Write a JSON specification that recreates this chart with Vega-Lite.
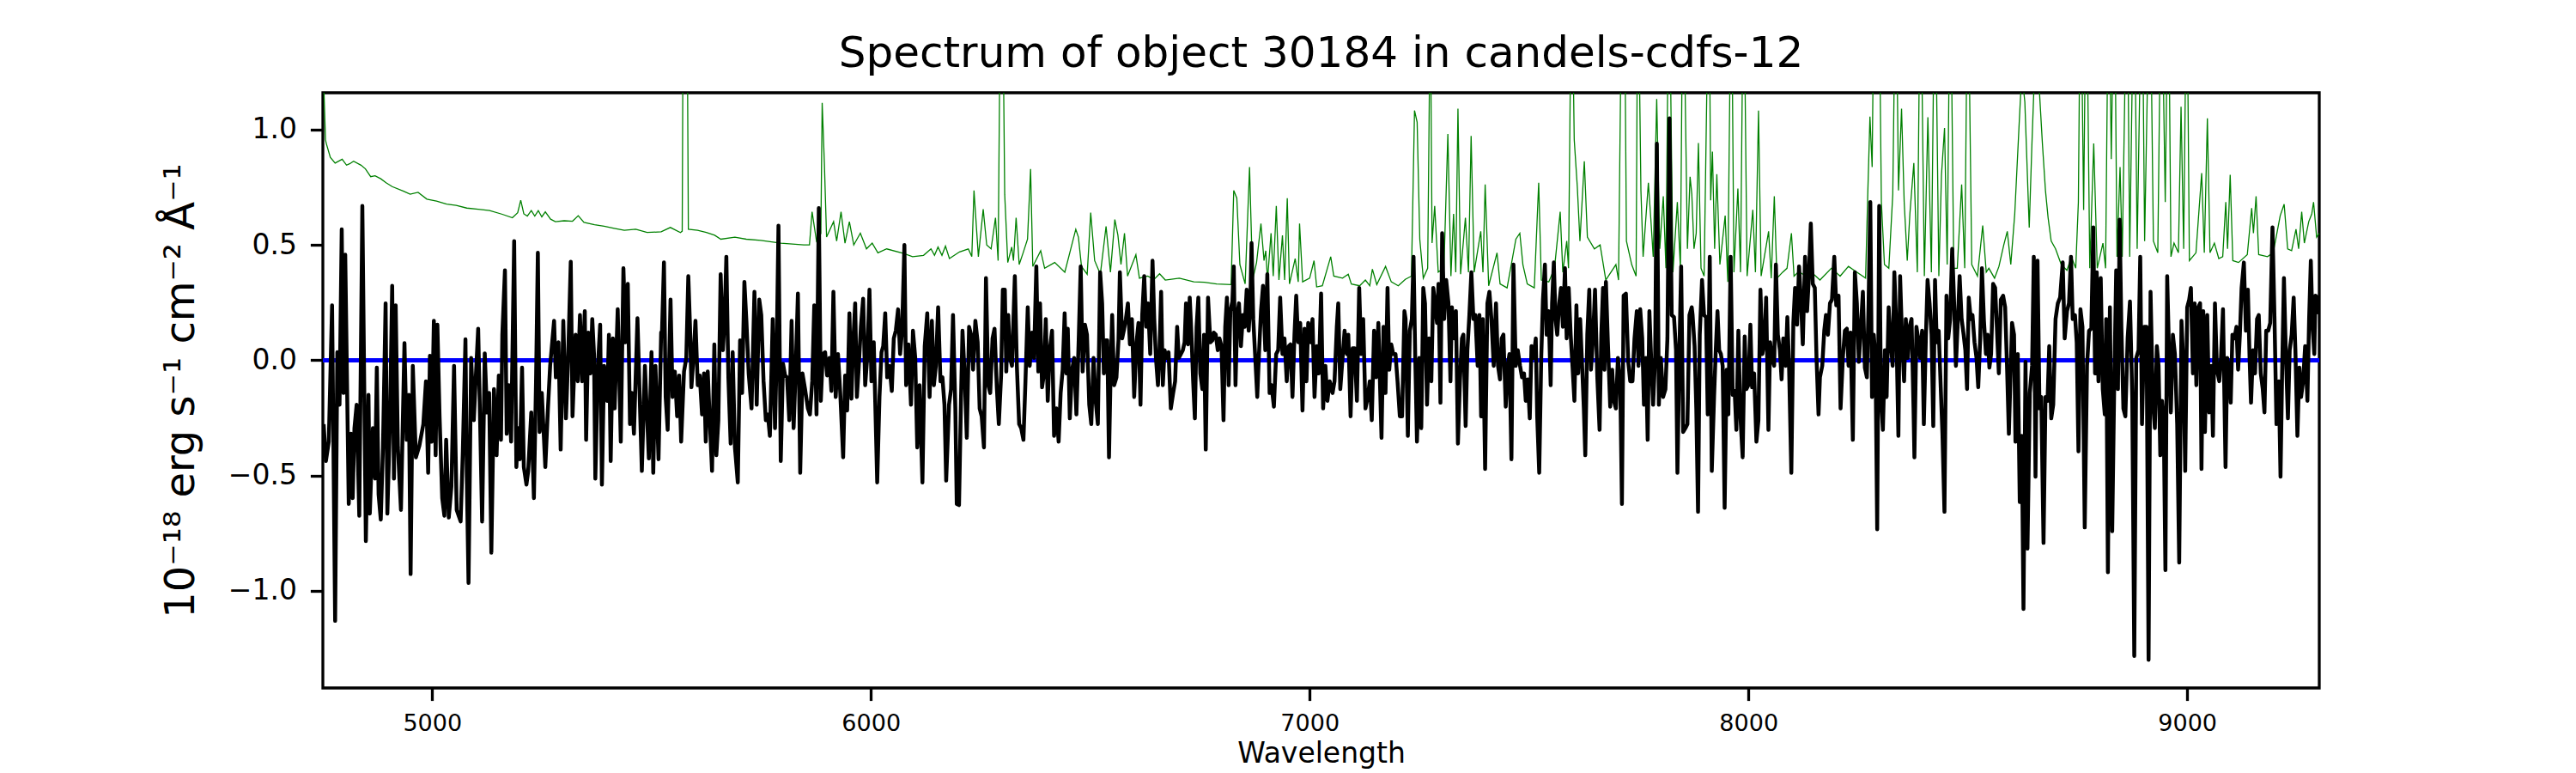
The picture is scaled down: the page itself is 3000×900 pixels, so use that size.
{
  "$schema": "https://vega.github.io/schema/vega-lite/v6.json",
  "width": 2325,
  "height": 693,
  "autosize": {"type": "none"},
  "padding": {"left": 376, "top": 108, "right": 299, "bottom": 99},
  "background": "white",
  "title": {
    "text": "Spectrum of object 30184 in candels-cdfs-12",
    "font": "DejaVu Sans",
    "fontSize": 50,
    "fontWeight": "normal",
    "color": "black",
    "offset": 20
  },
  "config": {
    "view": {"stroke": "black", "strokeWidth": 3.3},
    "axis": {
      "domain": false,
      "grid": false,
      "ticks": true,
      "tickColor": "black",
      "tickWidth": 3.3,
      "tickSize": 14.6,
      "labelFont": "DejaVu Sans",
      "labelColor": "black",
      "labelPadding": 15,
      "titleFont": "DejaVu Sans",
      "titleColor": "black",
      "titleFontWeight": "normal"
    }
  },
  "datasets": {
    "model": [{"w": 4751, "v": 0}, {"w": 9301, "v": 0}],
    "noise": [
      {"w":4751,"v":1.6},{"w":4753,"v":1.2},{"w":4757,"v":0.956},{"w":4759,"v":0.939},{"w":4768,"v":0.88},{"w":4779,"v":0.855},{"w":4795,"v":0.872},{"w":4805,"v":0.846},{"w":4812,"v":0.852},{"w":4821,"v":0.863},{"w":4838,"v":0.846},{"w":4848,"v":0.83},{"w":4860,"v":0.796},{"w":4870,"v":0.8},{"w":4883,"v":0.787},{"w":4895,"v":0.77},{"w":4909,"v":0.753},{"w":4935,"v":0.733},{"w":4950,"v":0.72},{"w":4968,"v":0.728},{"w":4988,"v":0.699},{"w":5010,"v":0.69},{"w":5033,"v":0.677},{"w":5055,"v":0.672},{"w":5079,"v":0.66},{"w":5105,"v":0.655},{"w":5131,"v":0.649},{"w":5160,"v":0.633},{"w":5183,"v":0.618},{"w":5195,"v":0.64},{"w":5202,"v":0.694},{"w":5209,"v":0.635},{"w":5217,"v":0.625},{"w":5226,"v":0.649},{"w":5234,"v":0.625},{"w":5242,"v":0.649},{"w":5250,"v":0.622},{"w":5258,"v":0.644},{"w":5270,"v":0.612},{"w":5281,"v":0.601},{"w":5301,"v":0.605},{"w":5320,"v":0.603},{"w":5333,"v":0.627},{"w":5346,"v":0.598},{"w":5370,"v":0.588},{"w":5392,"v":0.581},{"w":5415,"v":0.572},{"w":5438,"v":0.564},{"w":5464,"v":0.568},{"w":5490,"v":0.554},{"w":5522,"v":0.557},
      {"w":5543,"v":0.576},{"w":5566,"v":0.554},{"w":5570,"v":0.56},{"w":5573,"v":2.0},{"w":5580,"v":2.0},{"w":5584,"v":0.568},{"w":5605,"v":0.564},{"w":5625,"v":0.554},{"w":5644,"v":0.542},{"w":5658,"v":0.525},{"w":5690,"v":0.534},{"w":5716,"v":0.525},{"w":5749,"v":0.52},{"w":5795,"v":0.508},{"w":5847,"v":0.5},{"w":5860,"v":0.5},{"w":5866,"v":0.644},{"w":5876,"v":0.517},{"w":5886,"v":0.55},{"w":5889,"v":1.116},{"w":5894,"v":0.855},{"w":5899,"v":0.534},{"w":5915,"v":0.601},{"w":5922,"v":0.517},{"w":5932,"v":0.644},{"w":5941,"v":0.508},{"w":5951,"v":0.601},{"w":5961,"v":0.5},{"w":5976,"v":0.551},{"w":5990,"v":0.483},{"w":6003,"v":0.508},{"w":6016,"v":0.466},{"w":6036,"v":0.483},{"w":6075,"v":0.463},{"w":6095,"v":0.449},{"w":6120,"v":0.455},{"w":6137,"v":0.483},{"w":6145,"v":0.455},{"w":6153,"v":0.491},{"w":6162,"v":0.455},{"w":6170,"v":0.495},{"w":6179,"v":0.441},{"w":6202,"v":0.47},{"w":6222,"v":0.483},{"w":6230,"v":0.45},{"w":6235,"v":0.736},{"w":6245,"v":0.449},{"w":6256,"v":0.655},{"w":6264,"v":0.5},{"w":6274,"v":0.483},{"w":6284,"v":0.618},{"w":6290,"v":0.432},{"w":6296,"v":1.8},{"w":6301,"v":1.5},{"w":6305,"v":0.72},
      {"w":6312,"v":0.424},{"w":6321,"v":0.491},{"w":6325,"v":0.432},{"w":6331,"v":0.618},{"w":6338,"v":0.415},{"w":6347,"v":0.466},{"w":6357,"v":0.525},{"w":6364,"v":0.829},{"w":6369,"v":0.407},{"w":6387,"v":0.475},{"w":6396,"v":0.399},{"w":6419,"v":0.424},{"w":6442,"v":0.382},{"w":6467,"v":0.568},{"w":6473,"v":0.534},{"w":6480,"v":0.407},{"w":6493,"v":0.373},{"w":6501,"v":0.64},{"w":6510,"v":0.432},{"w":6523,"v":0.373},{"w":6536,"v":0.581},{"w":6546,"v":0.382},{"w":6556,"v":0.61},{"w":6563,"v":0.542},{"w":6570,"v":0.415},{"w":6578,"v":0.551},{"w":6585,"v":0.365},{"w":6604,"v":0.458},{"w":6612,"v":0.356},{"w":6631,"v":0.365},{"w":6645,"v":0.35},{"w":6658,"v":0.375},{"w":6671,"v":0.348},{"w":6703,"v":0.356},{"w":6736,"v":0.34},{"w":6760,"v":0.338},{"w":6788,"v":0.331},{"w":6821,"v":0.328},{"w":6827,"v":0.736},{"w":6834,"v":0.703},{"w":6841,"v":0.415},{"w":6853,"v":0.331},{"w":6863,"v":0.838},{"w":6870,"v":0.348},{"w":6879,"v":0.424},{"w":6889,"v":0.593},{"w":6896,"v":0.432},{"w":6900,"v":0.475},{"w":6904,"v":0.348},{"w":6912,"v":0.551},{"w":6917,"v":0.365},{"w":6924,"v":0.669},{"w":6930,"v":0.348},{"w":6938,"v":0.542},{"w":6943,"v":0.348},{"w":6949,"v":0.703},{"w":6954,"v":0.331},{"w":6967,"v":0.441},{"w":6974,"v":0.34},{"w":6977,"v":0.593},{"w":6984,"v":0.34},{"w":7000,"v":0.356},{"w":7010,"v":0.432},{"w":7016,"v":0.318},{"w":7029,"v":0.323},{"w":7048,"v":0.449},{"w":7055,"v":0.365},{"w":7075,"v":0.356},{"w":7088,"v":0.373},
      {"w":7095,"v":0.331},{"w":7114,"v":0.323},{"w":7127,"v":0.348},{"w":7137,"v":0.323},{"w":7143,"v":0.395},{"w":7153,"v":0.328},{"w":7173,"v":0.407},{"w":7186,"v":0.34},{"w":7202,"v":0.323},{"w":7218,"v":0.351},{"w":7232,"v":0.365},{"w":7239,"v":1.083},{"w":7245,"v":1.032},{"w":7251,"v":0.525},{"w":7259,"v":0.356},{"w":7269,"v":0.399},{"w":7275,"v":1.6},{"w":7279,"v":0.508},{"w":7285,"v":0.669},{"w":7293,"v":0.382},{"w":7306,"v":0.399},{"w":7315,"v":0.981},{"w":7322,"v":0.365},{"w":7328,"v":0.635},{"w":7333,"v":0.382},{"w":7338,"v":1.091},{"w":7344,"v":0.373},{"w":7355,"v":0.618},{"w":7362,"v":0.382},{"w":7368,"v":0.973},{"w":7375,"v":0.382},{"w":7390,"v":0.559},{"w":7395,"v":0.382},{"w":7400,"v":0.762},{"w":7408,"v":0.323},{"w":7427,"v":0.466},{"w":7434,"v":0.331},{"w":7450,"v":0.314},{"w":7470,"v":0.525},{"w":7479,"v":0.551},{"w":7486,"v":0.415},{"w":7496,"v":0.331},{"w":7512,"v":0.314},{"w":7522,"v":0.77},{"w":7528,"v":0.348},{"w":7545,"v":0.34},{"w":7558,"v":0.399},{"w":7571,"v":0.644},{"w":7577,"v":0.382},{"w":7586,"v":0.517},{"w":7590,"v":0.399},{"w":7597,"v":1.8},{"w":7603,"v":0.956},{"w":7610,"v":0.753},{"w":7616,"v":0.517},{"w":7626,"v":0.863},{"w":7633,"v":0.534},{"w":7649,"v":0.483},{"w":7662,"v":0.5},{"w":7675,"v":0.348},{"w":7698,"v":0.415},{"w":7704,"v":0.348},{"w":7712,"v":1.8},{"w":7717,"v":1.8},{"w":7722,"v":0.517},{"w":7734,"v":0.415},{"w":7744,"v":0.365},{"w":7748,"v":1.8},{"w":7755,"v":0.736},{"w":7760,"v":0.449},{"w":7772,"v":0.77},{"w":7778,"v":0.601},{"w":7783,"v":0.449},{"w":7791,"v":1.133},{"w":7798,"v":0.483},{"w":7806,"v":0.711},{"w":7812,"v":0.399},{"w":7819,"v":1.8},{"w":7828,"v":0.382},{"w":7838,"v":0.686},{"w":7845,"v":0.399},{"w":7851,"v":1.8},{"w":7861,"v":0.483},{"w":7867,"v":0.796},
      {"w":7871,"v":0.72},{"w":7876,"v":0.483},{"w":7881,"v":0.551},{"w":7886,"v":0.942},{"w":7892,"v":0.399},{"w":7899,"v":0.365},{"w":7910,"v":1.8},{"w":7914,"v":0.694},{"w":7918,"v":0.905},{"w":7923,"v":0.483},{"w":7928,"v":0.807},{"w":7935,"v":0.415},{"w":7947,"v":0.627},{"w":7953,"v":0.34},{"w":7961,"v":1.8},{"w":7967,"v":0.382},{"w":7976,"v":0.745},{"w":7982,"v":0.382},{"w":7989,"v":1.8},{"w":7997,"v":0.365},{"w":8010,"v":0.652},{"w":8016,"v":0.382},{"w":8023,"v":1.083},{"w":8029,"v":0.365},{"w":8046,"v":0.559},{"w":8052,"v":0.356},{"w":8059,"v":0.711},{"w":8065,"v":0.356},{"w":8078,"v":0.382},{"w":8088,"v":0.399},{"w":8098,"v":0.551},{"w":8104,"v":0.365},{"w":8115,"v":0.385},{"w":8130,"v":0.365},{"w":8145,"v":0.38},{"w":8163,"v":0.348},{"w":8189,"v":0.399},{"w":8209,"v":0.365},{"w":8228,"v":0.407},{"w":8241,"v":0.39},{"w":8267,"v":0.356},{"w":8272,"v":0.72},{"w":8277,"v":1.057},{"w":8282,"v":0.838},{"w":8287,"v":1.8},{"w":8297,"v":1.8},{"w":8303,"v":0.686},{"w":8310,"v":0.415},{"w":8320,"v":0.399},{"w":8329,"v":0.72},{"w":8336,"v":1.8},{"w":8342,"v":0.736},{"w":8349,"v":1.091},{"w":8355,"v":0.686},{"w":8362,"v":0.432},{"w":8368,"v":0.635},{"w":8377,"v":0.855},{"w":8385,"v":0.382},{"w":8392,"v":1.8},{"w":8401,"v":0.365},{"w":8409,"v":1.054},{"w":8417,"v":0.382},{"w":8425,"v":1.8},{"w":8434,"v":0.365},{"w":8440,"v":0.804},{"w":8447,"v":1.007},{"w":8453,"v":0.415},{"w":8460,"v":1.8},{"w":8468,"v":0.399},{"w":8476,"v":0.399},{"w":8486,"v":0.762},{"w":8493,"v":0.399},{"w":8500,"v":1.8},{"w":8509,"v":0.415},{"w":8522,"v":0.365},{"w":8534,"v":0.584},{"w":8542,"v":0.382},{"w":8548,"v":0.399},{"w":8561,"v":0.356},{"w":8571,"v":0.407},{"w":8582,"v":0.5},{"w":8590,"v":0.559},{"w":8598,"v":0.415},{"w":8607,"v":0.635},{"w":8617,"v":1.024},{"w":8623,"v":1.25},{"w":8630,"v":1.12},{"w":8640,"v":0.575},{"w":8646,"v":0.93},{"w":8652,"v":1.25},{"w":8660,"v":1.3},{"w":8664,"v":1.14},{"w":8670,"v":0.94},{"w":8677,"v":0.736},{"w":8683,"v":0.618},{"w":8690,"v":0.517},{"w":8700,"v":0.483},{"w":8713,"v":0.415},{"w":8726,"v":0.39},{"w":8736,"v":0.449},{"w":8746,"v":0.399},{"w":8752,"v":0.686},{"w":8757,"v":1.8},{"w":8764,"v":0.652},{"w":8770,"v":1.8},{"w":8778,"v":0.399},{"w":8787,"v":0.94},{"w":8795,"v":0.399},{"w":8808,"v":0.508},{"w":8814,"v":0.399},{"w":8821,"v":1.8},{"w":8827,"v":0.872},{"w":8834,"v":1.8},{"w":8840,"v":0.449},{"w":8847,"v":0.838},{"w":8852,"v":0.449},{"w":8863,"v":1.8},{"w":8869,"v":0.449},{"w":8879,"v":1.8},{"w":8886,"v":0.483},{"w":8897,"v":1.8},{"w":8903,"v":0.517},{"w":8915,"v":1.8},{"w":8923,"v":0.517},{"w":8933,"v":0.466},{"w":8941,"v":1.8},{"w":8950,"v":0.686},{"w":8957,"v":1.8},{"w":8963,"v":0.449},{"w":8970,"v":0.508},{"w":8980,"v":0.466},{"w":8986,"v":1.099},{"w":8992,"v":0.483},{"w":8999,"v":1.8},{"w":9005,"v":0.432},{"w":9020,"v":0.466},{"w":9033,"v":0.812},{"w":9039,"v":0.466},{"w":9046,"v":1.049},{"w":9052,"v":0.466},{"w":9062,"v":0.508},{"w":9072,"v":0.441},{"w":9081,"v":0.449},{"w":9088,"v":0.686},{"w":9092,"v":0.483},{"w":9098,"v":0.804},{"w":9104,"v":0.432},{"w":9117,"v":0.424},{"w":9137,"v":0.458},{"w":9147,"v":0.66},{"w":9151,"v":0.551},{"w":9157,"v":0.711},{"w":9163,"v":0.458},{"w":9183,"v":0.449},{"w":9196,"v":0.466},{"w":9212,"v":0.627},{"w":9221,"v":0.677},{"w":9229,"v":0.483},{"w":9238,"v":0.475},{"w":9248,"v":0.568},{"w":9254,"v":0.483},{"w":9261,"v":0.644},{"w":9267,"v":0.508},{"w":9277,"v":0.601},{"w":9284,"v":0.635},{"w":9288,"v":0.686},{"w":9295,"v":0.534},{"w":9301,"v":0.551}
    ],
    "flux": [
      {"w":4752.8,"v":-0.277},{"w":4758,"v":-0.437},{"w":4764.5,"v":-0.353},{"w":4772,"v":0.238},{"w":4779,"v":-1.13},{"w":4784,"v":0.035},{"w":4789,"v":-0.193},{"w":4794,"v":0.568},{"w":4798,"v":-0.142},{"w":4802,"v":0.458},{"w":4810,"v":-0.623},{"w":4815,"v":-0.319},{"w":4819,"v":-0.598},{"w":4823,"v":-0.294},{"w":4828,"v":-0.193},{"w":4834,"v":-0.674},{"w":4841,"v":0.669},{"w":4849,"v":-0.784},{"w":4855,"v":-0.15},{"w":4858,"v":-0.665},{"w":4865,"v":-0.294},{"w":4870,"v":-0.513},{"w":4874,"v":-0.032},{"w":4878,"v":-0.581},{"w":4883,"v":-0.691},{"w":4888,"v":-0.378},{"w":4894,"v":0.247},{"w":4898,"v":-0.665},{"w":4904,"v":-0.26},{"w":4909,"v":0.323},{"w":4913,"v":-0.513},{"w":4917,"v":0.238},{"w":4922,"v":-0.378},{"w":4929,"v":-0.649},{"w":4937,"v":0.074},{"w":4942,"v":-0.345},{"w":4947,"v":-0.15},{"w":4951,"v":-0.927},{"w":4956,"v":-0.024},{"w":4963,"v":-0.421},{"w":4971,"v":-0.37},{"w":4980,"v":-0.277},{"w":4986,"v":-0.091},{"w":4991,"v":-0.488},{"w":4995,"v":0.019},{"w":4999,"v":-0.353},{"w":5004,"v":0.171},{"w":5008,"v":-0.412},{"w":5012,"v":0.154},{"w":5017,"v":-0.243},{"w":5023,"v":-0.598},{"w":5028,"v":-0.674},{"w":5032,"v":-0.345},{"w":5038,"v":-0.682},{"w":5044,"v":-0.547},{"w":5050,"v":-0.024},{"w":5056,"v":-0.649},{"w":5065,"v":-0.699},{"w":5070,"v":-0.395},{"w":5076,"v":0.091},{"w":5079,"v":-0.497},{"w":5083,"v":-0.966},{"w":5089,"v":0.01},{"w":5095,"v":-0.26},{"w":5100,"v":-0.057},{"w":5105,"v":0.137},{"w":5109,"v":-0.226},{"w":5114,"v":-0.699},{"w":5120,"v":0.03},{"w":5125,"v":-0.226},{"w":5130,"v":-0.142},{"w":5135,"v":-0.834},{"w":5141,"v":-0.125},{"w":5147,"v":-0.412},{"w":5152,"v":-0.066},{"w":5157,"v":-0.345},{"w":5160,"v":0.111},{"w":5166,"v":0.39},{"w":5170,"v":-0.319},{"w":5175,"v":-0.108},{"w":5180,"v":-0.353},{"w":5187,"v":0.517},{"w":5192,"v":-0.463},{"w":5196,"v":-0.294},{"w":5200,"v":-0.429},{"w":5205,"v":-0.032},{"w":5209,"v":-0.463},{"w":5215,"v":-0.539},{"w":5219,"v":-0.48},{"w":5226,"v":-0.226},{"w":5232,"v":-0.598},{"w":5237,"v":-0.074},{"w":5241,"v":0.466},{"w":5245,"v":-0.311},{"w":5250,"v":-0.142},{"w":5258,"v":-0.463},{"w":5264,"v":-0.209},{"w":5269,"v":-0.024},{"w":5278,"v":0.171},{"w":5282,"v":-0.074},{"w":5288,"v":0.078},{"w":5293,"v":-0.387},{"w":5299,"v":0.171},{"w":5305,"v":-0.252},{"w":5310,"v":0.01},{"w":5316,"v":0.427},{"w":5320,"v":-0.243},{"w":5327,"v":0.111},{"w":5332,"v":-0.091},{"w":5337,"v":0.196},{"w":5342,"v":-0.091},{"w":5348,"v":0.213},{"w":5351,"v":-0.345},{"w":5356,"v":0.12},{"w":5361,"v":-0.057},{"w":5365,"v":0.179},{"w":5369,"v":0.027},{"w":5372,"v":-0.513},{"w":5378,"v":-0.024},{"w":5383,"v":0.154},{"w":5387,"v":-0.539},{"w":5392,"v":-0.024},{"w":5399,"v":-0.176},{"w":5403,"v":0.111},{"w":5407,"v":-0.437},{"w":5412,"v":0.095},{"w":5416,"v":-0.209},{"w":5423,"v":0.221},{"w":5430,"v":-0.353},{"w":5436,"v":0.399},{"w":5441,"v":0.078},{"w":5446,"v":0.331},{"w":5451,"v":-0.277},{"w":5455,"v":-0.142},{"w":5460,"v":-0.319},{"w":5468,"v":0.182},{"w":5478,"v":-0.48},{"w":5485,"v":-0.024},{"w":5494,"v":-0.426},{"w":5500,"v":0.035},{"w":5504,"v":-0.488},{"w":5509,"v":-0.024},{"w":5516,"v":-0.429},{"w":5522,"v":0.12},
      {"w":5524,"v":0.128},{"w":5528.4,"v":0.424},{"w":5532.3,"v":-0.159},{"w":5536.9,"v":-0.302},{"w":5543.4,"v":0.263},{"w":5548,"v":-0.159},{"w":5553.2,"v":-0.049},{"w":5558.4,"v":-0.243},{"w":5563,"v":-0.066},{"w":5567.6,"v":-0.353},{"w":5574.1,"v":-0.049},{"w":5579.3,"v":0.01},{"w":5583.9,"v":0.365},{"w":5587.8,"v":0.145},{"w":5591,"v":-0.117},{"w":5595.6,"v":0.01},{"w":5600.2,"v":0.171},{"w":5605.4,"v":-0.108},{"w":5610,"v":-0.066},{"w":5615.2,"v":-0.235},{"w":5619.7,"v":-0.057},{"w":5623.7,"v":-0.353},{"w":5628.2,"v":-0.049},{"w":5632.8,"v":-0.26},{"w":5638,"v":-0.48},{"w":5643.2,"v":0.069},{"w":5647.8,"v":-0.412},{"w":5652.4,"v":-0.26},{"w":5657.6,"v":0.373},{"w":5662.8,"v":0.044},{"w":5666.7,"v":0.179},{"w":5670.6,"v":0.449},{"w":5675.2,"v":-0.074},{"w":5680.4,"v":-0.361},{"w":5685,"v":0.035},{"w":5690.2,"v":-0.378},{"w":5696.7,"v":-0.53},{"w":5701.9,"v":0.086},{"w":5706.5,"v":-0.142},{"w":5711.7,"v":0.34},{"w":5716.3,"v":0.171},{"w":5721.5,"v":-0.057},{"w":5728,"v":-0.209},{"w":5734.6,"v":0.297},{"w":5739.8,"v":-0.193},{"w":5745.6,"v":0.263},{"w":5750.2,"v":0.196},{"w":5755.4,"v":-0.091},{"w":5760.6,"v":-0.26},{"w":5765.2,"v":-0.235},{"w":5769.8,"v":-0.328},{"w":5776.3,"v":0.179},{"w":5781.5,"v":-0.294},{"w":5784.8,"v":-0.024},{"w":5789.4,"v":0.584},{"w":5794.6,"v":-0.437},{"w":5799.8,"v":-0.015},{"w":5804.4,"v":-0.066},{"w":5808.9,"v":-0.074},{"w":5814.1,"v":-0.26},{"w":5819.3,"v":0.171},{"w":5823.9,"v":-0.294},{"w":5828.5,"v":-0.049},{"w":5833.7,"v":0.289},{"w":5838.9,"v":-0.488},{"w":5844.1,"v":-0.057},{"w":5850,"v":-0.125},{"w":5856.5,"v":-0.209},{"w":5861.1,"v":-0.235},{"w":5866.3,"v":-0.091},{"w":5870.9,"v":0.238},{"w":5876.1,"v":-0.235},{"w":5881.3,"v":0.66},{"w":5885.9,"v":-0.176},{"w":5890.5,"v":0.027},{"w":5895.7,"v":0.035},{"w":5900.2,"v":-0.066},{"w":5905.5,"v":0.01},{"w":5910,"v":-0.133},{"w":5914.6,"v":0.297},{"w":5919.8,"v":-0.159},{"w":5925,"v":0.027},{"w":5930.2,"v":-0.142},{"w":5936.8,"v":-0.421},{"w":5941.3,"v":-0.066},{"w":5945.9,"v":-0.218},{"w":5951.1,"v":0.204},{"w":5955.7,"v":-0.167},{"w":5959.6,"v":0.069},{"w":5964.2,"v":0.247},{"w":5968.1,"v":-0.159},{"w":5972,"v":-0.041},{"w":5977.2,"v":0.145},{"w":5982.4,"v":0.267},{"w":5987,"v":-0.108},{"w":5991.6,"v":0.01},{"w":5996.8,"v":0.306},{"w":6001.3,"v":-0.091},{"w":6006.6,"v":0.078},{"w":6014.4,"v":-0.53},{"w":6019.6,"v":-0.159},{"w":6024.2,"v":0.035},{"w":6028.1,"v":0.061},{"w":6032.7,"v":0.204},{"w":6037.2,"v":-0.074},{"w":6042.4,"v":-0.024},{"w":6047.7,"v":-0.133},{"w":6052.2,"v":0.095},{"w":6056.8,"v":0.128},{"w":6062,"v":0.221},{"w":6066.6,"v":0.027},{"w":6071.1,"v":0.128},{"w":6076.4,"v":0.5},{"w":6080.3,"v":-0.108},{"w":6085.5,"v":0.069},{"w":6091.4,"v":-0.193},{"w":6095.9,"v":0.128},{"w":6101.1,"v":0.01},{"w":6105.7,"v":-0.378},{"w":6110.9,"v":-0.108},{"w":6117.5,"v":-0.53},{"w":6122.7,"v":0.061},{"w":6128.5,"v":0.204},{"w":6133.8,"v":-0.159},{"w":6139,"v":0.171},{"w":6143.6,"v":-0.108},{"w":6148.1,"v":-0.024},{"w":6153.3,"v":0.23},{"w":6158.6,"v":-0.091},{"w":6163.1,"v":-0.074},{"w":6167.7,"v":-0.193},{"w":6171.6,"v":-0.522},{"w":6178.1,"v":-0.193},{"w":6182.7,"v":-0.125},{"w":6187.2,"v":0.196},{"w":6192.5,"v":-0.209},{"w":6195.7,"v":-0.623},{"w":6200.9,"v":-0.628},{"w":6205.5,"v":-0.159},{"w":6208.8,"v":0.128},{"w":6213.4,"v":-0.049},{"w":6218.6,"v":-0.336},{"w":6223.8,"v":0.145},{"w":6228.4,"v":0.111},{"w":6232.9,"v":-0.041},{"w":6238.1,"v":0.171},{"w":6243.4,"v":0.078},{"w":6247.9,"v":-0.209},{"w":6252.5,"v":-0.243},{"w":6257.7,"v":-0.378},{"w":6262.3,"v":0.356},{"w":6267.5,"v":-0.108},{"w":6272,"v":-0.142},{"w":6277.3,"v":0.095},{"w":6281.8,"v":0.137},{"w":6287,"v":-0.117},{"w":6291.6,"v":-0.277},{"w":6296.8,"v":-0.066},{"w":6300.7,"v":0.306},
      {"w":6305.3,"v":0.306},{"w":6308.6,"v":-0.049},{"w":6313.1,"v":0.196},{"w":6317,"v":0.01},{"w":6321.6,"v":-0.024},{"w":6328.1,"v":0.365},{"w":6332.7,"v":-0.024},{"w":6337.9,"v":-0.277},{"w":6342.5,"v":-0.294},{"w":6347.7,"v":-0.345},{"w":6352.3,"v":-0.091},{"w":6357.5,"v":0.23},{"w":6362,"v":-0.024},{"w":6367.3,"v":0.12},{"w":6371.8,"v":0.01},{"w":6377.1,"v":0.407},{"w":6381.6,"v":-0.049},{"w":6385.5,"v":0.247},{"w":6390.1,"v":-0.117},{"w":6394.7,"v":-0.057},{"w":6398.6,"v":0.179},{"w":6403.1,"v":-0.176},{"w":6407.7,"v":0.044},{"w":6412.9,"v":0.128},{"w":6417.5,"v":-0.328},{"w":6422.7,"v":-0.209},{"w":6427.9,"v":-0.353},{"w":6432.5,"v":-0.142},{"w":6437.1,"v":-0.041},{"w":6441.6,"v":0.204},{"w":6445.5,"v":-0.057},{"w":6448.8,"v":0.137},{"w":6453.4,"v":-0.252},{"w":6458.6,"v":-0.041},{"w":6463.2,"v":0.01},{"w":6468.4,"v":-0.235},{"w":6473.6,"v":0.086},{"w":6478.2,"v":0.407},{"w":6482.7,"v":-0.049},{"w":6488,"v":0.154},{"w":6492.5,"v":0.111},{"w":6497.7,"v":-0.193},{"w":6502.3,"v":-0.277},{"w":6507.5,"v":0.01},{"w":6512.7,"v":-0.184},{"w":6517.3,"v":-0.277},{"w":6522.5,"v":0.382},{"w":6527.1,"v":0.247},{"w":6531,"v":-0.057},{"w":6534.9,"v":0.086},{"w":6538.8,"v":0.086},{"w":6542.7,"v":-0.421},{"w":6546.7,"v":-0.024},{"w":6549.9,"v":0.196},{"w":6554.5,"v":-0.108},{"w":6559.7,"v":-0.074},{"w":6564.3,"v":0.086},{"w":6567.5,"v":0.382},{"w":6572.7,"v":0.095},{"w":6577.3,"v":0.137},{"w":6581.2,"v":0.179},{"w":6585.8,"v":0.247},{"w":6590.4,"v":0.069},{"w":6594.9,"v":0.179},{"w":6600.1,"v":-0.159},{"w":6605.4,"v":0.078},{"w":6609.9,"v":0.162},{"w":6614.5,"v":-0.193},{"w":6618.4,"v":0.196},{"w":6623,"v":0.365},{"w":6627.5,"v":0.145},{"w":6631.5,"v":0.247},{"w":6636.7,"v":0.027},{"w":6641.9,"v":0.432},{"w":6645.8,"v":0.179},{"w":6649.7,"v":0.01},{"w":6654.3,"v":-0.108},{"w":6657.5,"v":0.027},{"w":6661.5,"v":0.297},{"w":6665.4,"v":-0.108},{"w":6669.3,"v":0.044},{"w":6673.8,"v":0.01},{"w":6678.4,"v":0.035},{"w":6683.6,"v":-0.209},{"w":6688.9,"v":-0.142},{"w":6693.4,"v":-0.091},{"w":6698,"v":0.145},{"w":6701.9,"v":0.01},{"w":6706.5,"v":0.027},{"w":6711,"v":0.044},{"w":6715,"v":0.078},{"w":6718.2,"v":0.247},{"w":6722.8,"v":0.069},{"w":6726.7,"v":0.272},{"w":6730.6,"v":0.111},{"w":6734.5,"v":-0.091},{"w":6738.4,"v":-0.252},{"w":6742.3,"v":0.145},{"w":6746.3,"v":0.272},{"w":6750.8,"v":-0.057},{"w":6755.4,"v":-0.125},{"w":6759.3,"v":0.111},{"w":6763.2,"v":-0.387},{"w":6768.4,"v":0.272},{"w":6773.7,"v":0.078},{"w":6778.2,"v":0.086},{"w":6781.5,"v":0.12},{"w":6786,"v":0.111},{"w":6790.6,"v":0.044},{"w":6794.5,"v":0.095},{"w":6799.1,"v":0.061},{"w":6803.7,"v":-0.26},{"w":6807.6,"v":0.145},{"w":6811.5,"v":0.272},{"w":6815.4,"v":-0.108},{"w":6819.3,"v":0.213},{"w":6823.9,"v":0.255},{"w":6827.1,"v":0.407},{"w":6831,"v":-0.108},{"w":6835,"v":0.196},{"w":6838.9,"v":0.247},{"w":6843.4,"v":0.061},{"w":6848,"v":0.196},{"w":6851.9,"v":0.145},{"w":6856.5,"v":0.306},{"w":6861.1,"v":0.128},{"w":6865,"v":0.263},{"w":6867.6,"v":0.508},{"w":6871.5,"v":0.179},{"w":6876.1,"v":0.01},{"w":6880.6,"v":-0.159},{"w":6884.5,"v":0.027},{"w":6889.1,"v":0.213},{"w":6893.7,"v":0.323},{"w":6898.9,"v":0.044},{"w":6903.5,"v":0.373},{"w":6908.7,"v":-0.142},{"w":6913.2,"v":-0.108},{"w":6918.5,"v":-0.201},{"w":6923.7,"v":0.027},{"w":6928.3,"v":0.044},{"w":6932.8,"v":0.272},{"w":6938,"v":0.027},{"w":6942.6,"v":0.095},{"w":6947.8,"v":-0.091},{"w":6952.4,"v":0.061},{"w":6956.3,"v":0.069},{"w":6960.9,"v":-0.159},{"w":6965.4,"v":0.111},{"w":6969.4,"v":0.28},{"w":6973.9,"v":0.078},{"w":6978.5,"v":0.162},{"w":6983.7,"v":-0.218},{"w":6988.3,"v":0.137},{"w":6992.8,"v":-0.091},{"w":6996.7,"v":0.162},{"w":7002,"v":0.078},{"w":7006.5,"v":0.179},{"w":7011.1,"v":-0.159},{"w":7016.3,"v":0.061},{"w":7020.9,"v":-0.057},{"w":7026.1,"v":0.289},{"w":7030.7,"v":-0.209},{"w":7035.9,"v":-0.024},{"w":7040.5,"v":-0.176},{"w":7045.7,"v":-0.091},{"w":7052.2,"v":-0.142},{"w":7056.7,"v":-0.091},{"w":7061.9,"v":0.145},{"w":7065.2,"v":0.247},{"w":7069.8,"v":-0.125},{"w":7075,"v":0.01},{"w":7079.6,"v":0.128},{"w":7084.8,"v":0.027},
      {"w":7088.1,"v":0.111},{"w":7093.3,"v":-0.243},{"w":7097.9,"v":0.052},{"w":7102.5,"v":0.052},{"w":7107.7,"v":-0.176},{"w":7112.9,"v":0.314},{"w":7117.5,"v":0.027},{"w":7122,"v":0.179},{"w":7127.2,"v":-0.209},{"w":7132.5,"v":-0.159},{"w":7137,"v":-0.091},{"w":7141.6,"v":-0.26},{"w":7146.8,"v":0.128},{"w":7151.4,"v":-0.074},{"w":7156.6,"v":0.162},{"w":7159.9,"v":-0.074},{"w":7163.8,"v":-0.336},{"w":7168.3,"v":0.145},{"w":7172.9,"v":-0.142},{"w":7177.5,"v":0.314},{"w":7181.4,"v":-0.041},{"w":7186,"v":0.069},{"w":7190.5,"v":0.027},{"w":7195.7,"v":0.027},{"w":7200.3,"v":-0.091},{"w":7205.5,"v":-0.243},{"w":7210.7,"v":-0.243},{"w":7216,"v":0.213},{"w":7218.6,"v":0.179},{"w":7223.8,"v":-0.328},{"w":7228.3,"v":0.128},{"w":7232.9,"v":0.179},{"w":7236.8,"v":0.449},{"w":7240.7,"v":0.01},{"w":7244.6,"v":-0.353},{"w":7249.9,"v":0.01},{"w":7254.4,"v":-0.294},{"w":7259,"v":0.314},{"w":7262.9,"v":0.247},{"w":7267.5,"v":-0.193},{"w":7272,"v":0.095},{"w":7277.3,"v":-0.091},{"w":7281.8,"v":0.314},{"w":7285.7,"v":0.247},{"w":7290.3,"v":0.162},{"w":7293.6,"v":0.331},{"w":7298.1,"v":-0.184},{"w":7302,"v":0.551},{"w":7306.6,"v":0.179},{"w":7311.2,"v":0.348},{"w":7316.4,"v":0.247},{"w":7320.9,"v":-0.091},{"w":7324.2,"v":0.23},{"w":7329.4,"v":0.095},{"w":7333.4,"v":0.213},{"w":7337.9,"v":-0.361},{"w":7342.5,"v":-0.091},{"w":7347.1,"v":0.095},{"w":7350.3,"v":0.111},{"w":7355.5,"v":-0.285},{"w":7359.5,"v":0.044},{"w":7364,"v":0.196},{"w":7368.6,"v":0.382},{"w":7373.2,"v":0.179},{"w":7377.7,"v":0.196},{"w":7382.9,"v":-0.024},{"w":7386.9,"v":0.196},{"w":7390.8,"v":-0.243},{"w":7394.7,"v":0.179},{"w":7399.9,"v":-0.471},{"w":7405.1,"v":0.247},{"w":7409.7,"v":0.297},{"w":7414.3,"v":0.179},{"w":7419.5,"v":-0.024},{"w":7424.7,"v":0.247},{"w":7429.3,"v":-0.024},{"w":7433.8,"v":-0.083},{"w":7437.7,"v":0.095},{"w":7441.6,"v":0.111},{"w":7446.9,"v":-0.201},{"w":7451.4,"v":-0.024},{"w":7455.3,"v":0.027},{"w":7459.9,"v":-0.429},{"w":7464.5,"v":0.415},{"w":7469.7,"v":-0.024},{"w":7474.3,"v":0.044},{"w":7479.5,"v":-0.024},{"w":7484,"v":-0.074},{"w":7488.6,"v":-0.057},{"w":7492.5,"v":-0.176},{"w":7497.1,"v":-0.083},{"w":7501.7,"v":-0.252},{"w":7505.6,"v":0.061},{"w":7510.1,"v":0.01},{"w":7515.4,"v":0.095},{"w":7518.6,"v":-0.243},{"w":7523.2,"v":-0.488},{"w":7527.8,"v":0.01},{"w":7531.7,"v":0.263},{"w":7536.2,"v":0.415},{"w":7540.1,"v":0.111},{"w":7544.7,"v":0.213},{"w":7549.3,"v":-0.108},{"w":7552.5,"v":0.247},{"w":7556.5,"v":0.424},{"w":7560.4,"v":0.179},{"w":7564.3,"v":0.111},{"w":7568.8,"v":0.247},{"w":7572.8,"v":0.314},{"w":7577.3,"v":0.145},{"w":7581.9,"v":0.399},{"w":7585.8,"v":0.095},{"w":7590.4,"v":0.314},{"w":7594.9,"v":0.111},{"w":7599.5,"v":-0.041},{"w":7603.4,"v":-0.176},{"w":7608,"v":0.238},{"w":7611.9,"v":-0.057},{"w":7616.5,"v":0.179},{"w":7621,"v":-0.024},{"w":7624.9,"v":-0.209},{"w":7628.2,"v":-0.412},{"w":7632.8,"v":0.111},{"w":7637.3,"v":0.306},{"w":7641.2,"v":-0.041},{"w":7645.8,"v":0.095},{"w":7650.4,"v":0.306},{"w":7655.6,"v":-0.074},{"w":7660.8,"v":-0.302},{"w":7664.7,"v":0.111},{"w":7668.6,"v":0.314},{"w":7671.9,"v":-0.041},{"w":7675.2,"v":0.34},{"w":7679.7,"v":0.078},{"w":7685,"v":-0.201},{"w":7689.5,"v":-0.041},{"w":7693.4,"v":-0.176},{"w":7698,"v":-0.209},{"w":7702.6,"v":0.01},{"w":7707.8,"v":-0.091},{"w":7711.7,"v":-0.623},{"w":7715.6,"v":0.28},{"w":7720.8,"v":0.289},{"w":7726.1,"v":-0.007},{"w":7730.6,"v":-0.091},{"w":7735.8,"v":-0.091},{"w":7740.4,"v":0.095},{"w":7745.6,"v":0.213},{"w":7749.5,"v":-0.024},{"w":7753.4,"v":0.221},{"w":7758,"v":0.095},{"w":7761.9,"v":-0.193},{"w":7766.5,"v":0.01},{"w":7770.4,"v":-0.345},{"w":7774.3,"v":0.213},{"w":7778.3,"v":0.01},{"w":7782.8,"v":-0.193},{"w":7787.4,"v":0.01},{"w":7791.3,"v":0.939},{"w":7795.9,"v":-0.193},{"w":7800.4,"v":0.01},{"w":7805.6,"v":-0.159},{"w":7810.9,"v":-0.125},{"w":7815.4,"v":0.095},{"w":7820,"v":1.049},{"w":7825.2,"v":0.196},{"w":7830.4,"v":0.187},{"w":7835,"v":0.044},{"w":7838.2,"v":-0.488},{"w":7842.8,"v":0.044},{"w":7846.7,"v":0.407},{"w":7851.3,"v":-0.311},{"w":7856.5,"v":-0.294},{"w":7861,"v":-0.277},{"w":7865.6,"v":0.196},{"w":7870.8,"v":0.23},
      {"w":7872.8,"v":0.196},{"w":7877.3,"v":0.061},{"w":7881.2,"v":-0.209},{"w":7885.2,"v":-0.657},{"w":7889.1,"v":0.111},{"w":7894.3,"v":0.348},{"w":7898.9,"v":0.196},{"w":7903.4,"v":0.187},{"w":7907.3,"v":-0.235},{"w":7911.9,"v":0.449},{"w":7916.5,"v":-0.48},{"w":7921.7,"v":-0.159},{"w":7925.6,"v":0.044},{"w":7929.5,"v":0.213},{"w":7933.4,"v":0.044},{"w":7937.3,"v":0.027},{"w":7941.3,"v":-0.024},{"w":7945.8,"v":-0.64},{"w":7950.4,"v":-0.041},{"w":7954.3,"v":-0.235},{"w":7959.5,"v":0.449},{"w":7964.1,"v":-0.15},{"w":7968.6,"v":-0.133},{"w":7972.6,"v":-0.302},{"w":7977.1,"v":0.128},{"w":7981.7,"v":-0.243},{"w":7986.9,"v":-0.421},{"w":7991.5,"v":0.103},{"w":7995.4,"v":-0.125},{"w":7999.9,"v":-0.108},{"w":8004.5,"v":0.154},{"w":8008.4,"v":-0.117},{"w":8013,"v":-0.057},{"w":8018.2,"v":-0.353},{"w":8022.8,"v":-0.26},{"w":8027.4,"v":0.306},{"w":8031.9,"v":0.027},{"w":8036.5,"v":0.078},{"w":8040.4,"v":0.272},{"w":8045.6,"v":-0.302},{"w":8049.5,"v":0.078},{"w":8053.4,"v":0.01},{"w":8058.7,"v":-0.024},{"w":8062.6,"v":0.415},{"w":8067.1,"v":0.111},{"w":8071.7,"v":0.044},{"w":8075.6,"v":-0.083},{"w":8079.5,"v":0.095},{"w":8084.8,"v":-0.024},{"w":8088.7,"v":0.187},{"w":8092.6,"v":-0.024},{"w":8097.8,"v":-0.488},{"w":8102.4,"v":0.162},{"w":8106.3,"v":0.314},{"w":8110.9,"v":0.154},{"w":8115.4,"v":0.407},{"w":8120,"v":0.247},{"w":8123.9,"v":0.069},{"w":8129.1,"v":0.449},{"w":8133.7,"v":0.213},{"w":8137,"v":0.331},{"w":8142.2,"v":0.593},{"w":8146.7,"v":0.331},{"w":8151.3,"v":0.314},{"w":8155.2,"v":0.01},{"w":8159.8,"v":-0.235},{"w":8163,"v":-0.074},{"w":8168.3,"v":-0.024},{"w":8172.8,"v":0.128},{"w":8176.7,"v":0.196},{"w":8181.3,"v":0.111},{"w":8185.9,"v":0.247},{"w":8190.4,"v":0.263},{"w":8195.7,"v":0.449},{"w":8200.2,"v":0.238},{"w":8205.4,"v":0.28},{"w":8210,"v":-0.209},{"w":8215.2,"v":0.01},{"w":8219.8,"v":0.128},{"w":8224.3,"v":0.137},{"w":8228.3,"v":-0.024},{"w":8232.8,"v":0.12},{"w":8238,"v":-0.345},{"w":8242.6,"v":0.382},{"w":8247.2,"v":0.247},{"w":8251.7,"v":-0.007},{"w":8256.3,"v":0.145},{"w":8260.9,"v":0.297},{"w":8265.4,"v":-0.032},{"w":8270,"v":-0.074},{"w":8273.9,"v":0.247},{"w":8277.8,"v":0.686},{"w":8281.7,"v":-0.159},{"w":8285.7,"v":0.111},{"w":8289.6,"v":0.01},{"w":8293.5,"v":-0.733},{"w":8298.1,"v":0.669},{"w":8302,"v":-0.159},{"w":8306.5,"v":-0.302},{"w":8311.1,"v":0.044},{"w":8315,"v":-0.159},{"w":8319.6,"v":0.23},{"w":8324.2,"v":0.078},{"w":8328.7,"v":-0.024},{"w":8332.6,"v":0.382},{"w":8337.2,"v":0.137},{"w":8341.8,"v":-0.328},{"w":8345.7,"v":0.365},{"w":8350.2,"v":0.095},{"w":8354.8,"v":-0.091},{"w":8358.7,"v":0.179},{"w":8363.3,"v":0.01},{"w":8367.2,"v":0.145},{"w":8371.8,"v":0.179},{"w":8376.3,"v":-0.209},{"w":8378.3,"v":-0.421},{"w":8382.9,"v":0.145},{"w":8386.8,"v":0.095},{"w":8391.3,"v":0.01},{"w":8395.9,"v":0.128},{"w":8399.8,"v":-0.277},{"w":8404.4,"v":0.095},{"w":8408.3,"v":0.348},{"w":8412.9,"v":0.247},{"w":8417.4,"v":0.111},{"w":8421.3,"v":-0.285},{"w":8425.3,"v":0.348},{"w":8429.2,"v":0.078},{"w":8433.7,"v":0.128},{"w":8438.3,"v":-0.117},{"w":8442.2,"v":-0.319},{"w":8446.8,"v":-0.657},{"w":8451.4,"v":0.28},{"w":8455.3,"v":0.095},{"w":8459.8,"v":0.179},{"w":8464.4,"v":0.483},{"w":8468.3,"v":0.28},{"w":8472.9,"v":-0.024},{"w":8477.4,"v":0.179},{"w":8481.4,"v":0.365},{"w":8485.9,"v":0.179},{"w":8490.5,"v":0.111},{"w":8494.4,"v":0.044},{"w":8498.3,"v":-0.125},{"w":8502.2,"v":0.272},{"w":8506.8,"v":0.179},{"w":8510.7,"v":0.196},{"w":8515.3,"v":0.078},{"w":8519.8,"v":0.01},{"w":8523.8,"v":-0.117},{"w":8528.3,"v":0.095},{"w":8532.2,"v":0.399},{"w":8536.8,"v":0.171},{"w":8541.4,"v":0.027},{"w":8545.3,"v":0.111},{"w":8549.2,"v":-0.032},{"w":8553.1,"v":0.027},{"w":8557.7,"v":0.331},{"w":8562.3,"v":0.314},{"w":8566.2,"v":0.145},{"w":8570.7,"v":-0.057},{"w":8575.3,"v":0.263},{"w":8580.5,"v":0.28},{"w":8585.1,"v":0.23},{"w":8589.6,"v":-0.041},{"w":8593.6,"v":-0.319},
      {"w":8600.8,"v":0.162},{"w":8605.4,"v":0.111},{"w":8608.6,"v":-0.353},{"w":8613.9,"v":0.027},{"w":8618.4,"v":-0.615},{"w":8623,"v":-0.328},{"w":8626.9,"v":-1.078},{"w":8631.5,"v":-0.007},{"w":8636,"v":-0.817},{"w":8641.3,"v":-0.142},{"w":8646.5,"v":-0.024},{"w":8650.4,"v":0.449},{"w":8654.3,"v":-0.505},{"w":8658.9,"v":0.432},{"w":8663.4,"v":-0.209},{"w":8667.4,"v":-0.159},{"w":8672.6,"v":-0.792},{"w":8677.1,"v":-0.159},{"w":8681.7,"v":-0.176},{"w":8685.6,"v":0.061},{"w":8690.2,"v":-0.252},{"w":8694.7,"v":-0.193},{"w":8700,"v":0.179},{"w":8705.2,"v":0.247},{"w":8710.4,"v":0.272},{"w":8716.3,"v":0.424},{"w":8720.8,"v":0.095},{"w":8726.1,"v":0.213},{"w":8730.6,"v":0.247},{"w":8735.2,"v":0.449},{"w":8739.1,"v":0.179},{"w":8744.3,"v":0.196},{"w":8748.2,"v":0.078},{"w":8752.2,"v":-0.395},{"w":8756.7,"v":0.221},{"w":8761.3,"v":0.145},{"w":8766.5,"v":-0.725},{"w":8771.7,"v":-0.024},{"w":8776.3,"v":0.128},{"w":8781.5,"v":0.137},{"w":8786.1,"v":0.576},{"w":8790,"v":-0.057},{"w":8793.9,"v":0.382},{"w":8797.8,"v":-0.091},{"w":8803,"v":0.356},{"w":8807.6,"v":-0.125},{"w":8812.2,"v":-0.235},{"w":8815.4,"v":0.179},{"w":8819.3,"v":-0.919},{"w":8823.9,"v":0.23},{"w":8829.1,"v":-0.741},{"w":8833.7,"v":-0.108},{"w":8838.2,"v":0.39},{"w":8842.2,"v":-0.125},{"w":8846.1,"v":0.61},{"w":8850,"v":0.145},{"w":8854.6,"v":-0.209},{"w":8859.1,"v":-0.243},{"w":8864.3,"v":0.095},{"w":8869.6,"v":0.255},{"w":8874.8,"v":-0.159},{"w":8879.4,"v":-1.282},{"w":8883.9,"v":0.01},{"w":8889.1,"v":0.044},{"w":8893,"v":0.449},{"w":8897,"v":-0.277},{"w":8902.2,"v":0.145},{"w":8907.4,"v":0.145},{"w":8912,"v":-1.299},{"w":8916.5,"v":0.297},{"w":8921.8,"v":-0.176},{"w":8926.3,"v":-0.294},{"w":8930.9,"v":0.061},{"w":8934.8,"v":-0.024},{"w":8938.7,"v":-0.412},{"w":8942.6,"v":-0.176},{"w":8946.5,"v":-0.26},{"w":8950.4,"v":-0.91},{"w":8954.4,"v":0.365},{"w":8958.9,"v":0.01},{"w":8962.8,"v":-0.226},{"w":8967.4,"v":0.111},{"w":8972,"v":0.027},{"w":8977.2,"v":-0.277},{"w":8981.8,"v":-0.877},{"w":8987,"v":0.171},{"w":8991.5,"v":-0.024},{"w":8995.5,"v":-0.48},{"w":9000,"v":0.23},{"w":9004.6,"v":0.263},{"w":9008.5,"v":0.314},{"w":9013.1,"v":-0.057},{"w":9017,"v":0.247},{"w":9020.9,"v":-0.108},{"w":9025.5,"v":0.23},{"w":9029.4,"v":0.247},{"w":9032.6,"v":-0.471},{"w":9036.6,"v":0.213},{"w":9040.5,"v":-0.311},{"w":9045.7,"v":0.196},{"w":9050.2,"v":-0.226},{"w":9054.8,"v":-0.024},{"w":9058.7,"v":-0.328},{"w":9063.3,"v":0.247},{"w":9067.9,"v":-0.041},{"w":9073.1,"v":-0.091},{"w":9077,"v":0.01},{"w":9081.6,"v":0.221},{"w":9087.4,"v":-0.463},{"w":9091.3,"v":0.01},{"w":9095.3,"v":-0.041},{"w":9099.2,"v":-0.184},{"w":9103.1,"v":0.111},{"w":9107.7,"v":0.095},{"w":9112.2,"v":0.145},{"w":9116.1,"v":-0.041},{"w":9120.1,"v":0.111},{"w":9124,"v":0.314},{"w":9129.2,"v":0.424},{"w":9133.8,"v":0.128},{"w":9138.3,"v":0.306},{"w":9142.2,"v":0.01},{"w":9145.5,"v":-0.184},{"w":9150.1,"v":0.044},{"w":9154.6,"v":-0.057},{"w":9159.2,"v":0.179},{"w":9163.1,"v":0.196},{"w":9167.7,"v":-0.057},{"w":9172.2,"v":-0.125},{"w":9176.1,"v":-0.226},{"w":9180.1,"v":0.128},{"w":9184.6,"v":0.128},{"w":9189.2,"v":0.162},{"w":9194.4,"v":0.576},{"w":9199,"v":0.179},{"w":9203.5,"v":-0.277},{"w":9208.8,"v":-0.091},{"w":9212.7,"v":-0.505},{"w":9216.6,"v":-0.024},{"w":9220.5,"v":0.356},{"w":9225.1,"v":0.01},{"w":9229.6,"v":-0.252},{"w":9233.6,"v":0.044},{"w":9238.1,"v":0.111},{"w":9242.7,"v":0.272},{"w":9246.6,"v":0.044},{"w":9251.2,"v":-0.328},{"w":9255.7,"v":-0.032},{"w":9259.6,"v":-0.159},{"w":9264.2,"v":-0.091},{"w":9268.8,"v":0.061},{"w":9274,"v":-0.176},{"w":9277.9,"v":0.179},{"w":9281.8,"v":0.432},{"w":9285.8,"v":0.145},{"w":9289.7,"v":0.027},{"w":9292.3,"v":0.28},{"w":9296.9,"v":0.272},{"w":9300.5,"v":0.2}
    ]
  },
  "encoding": {
    "x": {
      "field": "w",
      "type": "quantitative",
      "scale": {"domain": [4751, 9301], "nice": false, "zero": false},
      "axis": {
        "values": [5000, 6000, 7000, 8000, 9000],
        "format": "d",
        "labelFontSize": 27,
        "labelPadding": 14,
        "title": "Wavelength",
        "titleFontSize": 33,
        "titlePadding": 6
      }
    },
    "y": {
      "field": "v",
      "type": "quantitative",
      "scale": {"domain": [-1.421, 1.16], "nice": false, "zero": false},
      "axis": {
        "values": [-1, -0.5, 0, 0.5, 1],
        "format": ".1f",
        "labelFontSize": 33,
        "labelPadding": 16,
        "title": "10⁻¹⁸ erg s⁻¹ cm⁻² Å⁻¹",
        "titleFontSize": 48,
        "titlePadding": 30
      }
    }
  },
  "layer": [
    {"data": {"name": "noise"}, "mark": {"type": "line", "color": "#008000", "strokeWidth": 1.3, "clip": true}},
    {"data": {"name": "model"}, "mark": {"type": "line", "color": "#0000ff", "strokeWidth": 5, "clip": true}},
    {"data": {"name": "flux"}, "mark": {"type": "line", "color": "#000000", "strokeWidth": 4.5, "strokeJoin": "round", "clip": true}}
  ]
}
